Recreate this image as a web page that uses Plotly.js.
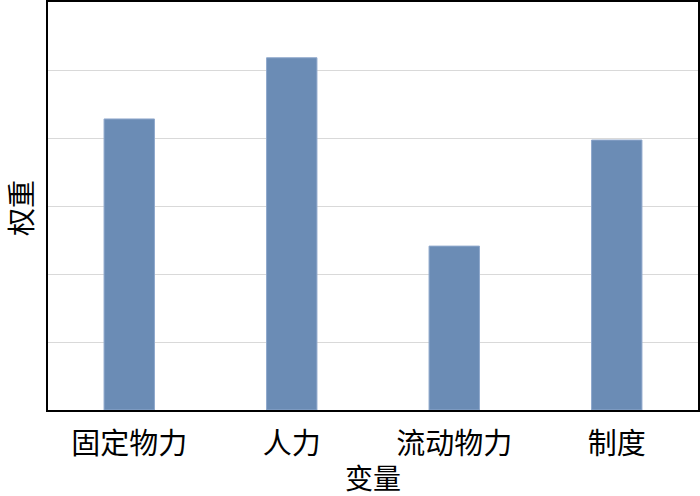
<!DOCTYPE html>
<html><head><meta charset="utf-8">
<script src="https://cdn.plot.ly/plotly-3.0.1.min.js"></script>
<style>html,body{margin:0;padding:0;background:#fff}#c{width:700px;height:496px}</style>
</head><body><div id="c"></div>
<script>
const categories = ['固定物力', '人力', '流动物力', '制度'];
const weights = [4.28, 5.18, 2.41, 3.97];
const xTitle = '变量';
const yTitle = '权重';
const font = '"Noto Sans CJK SC", "Noto Sans", sans-serif';
Plotly.newPlot('c', [{
  type: 'bar', x: categories, y: weights,
  marker: {color: '#6B8CB5', line: {color: '#8FA8CC', width: 1}},
  hoverinfo: 'none'
}], {
  width: 700, height: 496,
  margin: {l: 48, r: 2, t: 2, b: 86},
  paper_bgcolor: '#fff', plot_bgcolor: '#fff',
  bargap: 0.69,
  showlegend: false,
  xaxis: {
    showline: true, linecolor: '#000', linewidth: 2, mirror: true,
    ticks: 'outside', ticklen: 7, tickcolor: 'rgba(0,0,0,0)',
    tickfont: {family: font, size: 29, color: '#000'}
  },
  yaxis: {
    range: [0, 6], dtick: 1, showticklabels: false, ticks: '',
    showgrid: true, gridcolor: '#D9D9D9', gridwidth: 1, zeroline: false,
    showline: true, linecolor: '#000', linewidth: 2, mirror: true
  },
  annotations: [
    {text: xTitle, xref: 'paper', yref: 'paper', x: 0.5, y: -0.163,
     xanchor: 'center', yanchor: 'middle', showarrow: false,
     font: {family: font, size: 28, color: '#000'}},
    {text: yTitle, xref: 'paper', yref: 'paper', x: -0.043, y: 0.495,
     xanchor: 'center', yanchor: 'middle', showarrow: false, textangle: -90,
     font: {family: font, size: 28, color: '#000'}}
  ]
}, {staticPlot: true});
</script></body></html>
